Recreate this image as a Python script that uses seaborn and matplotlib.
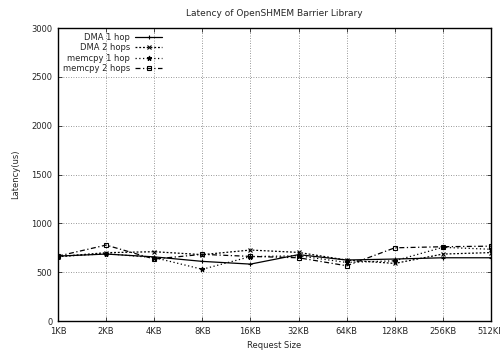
import pandas as pd
import matplotlib.pyplot as plt
import seaborn as sns

sizes = ['1KB', '2KB', '4KB', '8KB', '16KB', '32KB', '64KB', '128KB', '256KB', '512KB']
dma_1hop = [665, 686, 657, 611, 583, 680, 625, 635, 648, 648]
dma_2hops = [660, 700, 710, 680, 727, 703, 624, 590, 686, 701]
memcpy_1hop = [660, 690, 650, 530, 660, 668, 600, 617, 755, 735]
memcpy_2hops = [665, 778, 635, 683, 662, 648, 566, 750, 761, 767]

series = {
    'DMA 1 hop': (dma_1hop, '-', '+'),
    'DMA 2 hops': (dma_2hops, (0, (1.5, 1.5)), 'x'),
    'memcpy 1 hop': (memcpy_1hop, (0, (1, 2)), '*'),
    'memcpy 2 hops': (memcpy_2hops, (0, (4, 2, 1, 2)), 's'),
}

sns.set_theme(style="ticks")
plt.rcParams['font.family'] = ['DejaVu Sans']

fig = plt.figure(figsize=(5, 3.52), dpi=100)
ax = fig.add_axes([0.116, 0.088, 0.866, 0.832])

xs = list(range(len(sizes)))
for name, (vals, ls, mk) in series.items():
    df = pd.DataFrame({'x': xs, 'y': vals})
    sns.lineplot(data=df, x='x', y='y', ax=ax, color='black', linewidth=0.9,
                 linestyle=ls, marker=mk, markersize=3.5,
                 markerfacecolor='none' if mk == 's' else 'black',
                 markeredgecolor='black', markeredgewidth=0.8, label=name)

ax.set_xlim(0, len(sizes) - 1)
ax.set_ylim(0, 3000)
ax.set_xticks(xs)
ax.set_xticklabels(sizes)
ax.set_yticks(range(0, 3001, 500))
ax.tick_params(labelsize=6, direction='in', length=3, width=0.6, pad=4,
               top=True, right=True)
ax.grid(True, color='#777777', linestyle=(0, (1, 2)), linewidth=0.6)
for s in ax.spines.values():
    s.set_linewidth(1.0)
    s.set_color('black')

ax.set_title('Latency of OpenSHMEM Barrier Library', fontsize=6.5, pad=9)
ax.set_xlabel('Request Size', fontsize=6)
ax.set_ylabel('Latency(us)', fontsize=6, labelpad=8)

ax.legend(loc='upper left', bbox_to_anchor=(0.0, 1.0), fontsize=6,
          markerfirst=False, frameon=False, handlelength=3.2,
          labelspacing=0.15, borderaxespad=0.2, handletextpad=0.6)
leg = ax.get_legend()
for t in leg.get_texts():
    t.set_ha('right')
leg._legend_box.align = 'right'

plt.savefig('out.png', dpi=100)
plt.close()
